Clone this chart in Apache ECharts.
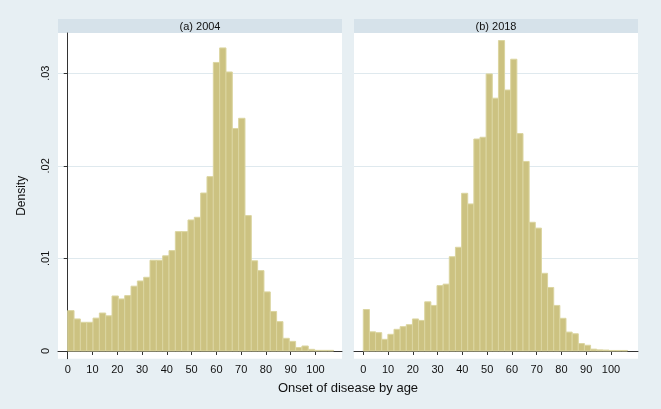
<!DOCTYPE html>
<html>
<head>
<meta charset="utf-8">
<script src="https://cdn.jsdelivr.net/npm/echarts@6/dist/echarts.min.js"></script>
<style>
html,body{margin:0;padding:0;background:#e7eff3;}
#chart{width:661px;height:409px;}
</style>
</head>
<body>
<div id="chart"></div>
<script>
// ---- data ----
const panelTitles = ['(a) 2004', '(b) 2018'];
const binWidth2004 = 2.555;
const binWidth2018 = 2.48;
const density2004 = [
  0.00436, 0.00346, 0.0031, 0.0031, 0.00355, 0.0041, 0.0038, 0.00594, 0.00562, 0.00598,
  0.007, 0.00756, 0.00796, 0.0098, 0.0098, 0.01028, 0.01084, 0.01289, 0.01289, 0.01415,
  0.01444, 0.01706, 0.01883, 0.03116, 0.03273, 0.03013, 0.02403, 0.02513, 0.01462, 0.00974,
  0.00868, 0.00638, 0.00427, 0.00317, 0.00137, 0.00104, 0.00038, 0.00054, 0.00018, 0.00007,
  0.00007, 0.00007
];
const density2018 = [
  0.00448, 0.00207, 0.00198, 0.00126, 0.0018, 0.00234, 0.00263, 0.00284, 0.00346, 0.0033,
  0.00531, 0.00492, 0.00706, 0.00722, 0.01018, 0.0112, 0.01703, 0.01588, 0.02289, 0.02308,
  0.02992, 0.0273, 0.03352, 0.02818, 0.03151, 0.02348, 0.02047, 0.0139, 0.01327, 0.00839,
  0.00686, 0.00492, 0.00353, 0.00204, 0.00186, 0.0008, 0.00062, 0.0002, 0.00012, 0.0001,
  0.00006, 0.00006, 0.00006
];
const xTickValues = [0, 10, 20, 30, 40, 50, 60, 70, 80, 90, 100];
const yTickValues = [0, 0.01, 0.02, 0.03];
const xTitle = 'Onset of disease by age';
const yTitle = 'Density';

function toBins(dens, w) {
  return dens.map((d, i) => [i * w, (i + 1) * w, d]);
}

const FONT = 'Liberation Sans, Arial, sans-serif';
const chart = echarts.init(document.getElementById('chart'));

function renderBar(params, api) {
  const p0 = api.coord([api.value(0), api.value(2)]);
  const p1 = api.coord([api.value(1), 0]);
  return {
    type: 'rect',
    shape: { x: p0[0], y: p0[1], width: p1[0] - p0[0], height: p1[1] - p0[1] },
    style: { fill: '#ccc281', stroke: '#dbd5a0', lineWidth: 1 }
  };
}

const yFmt = v => v === 0 ? '0' : v.toFixed(2).replace(/^0/, '');

const option = {
  backgroundColor: '#e7eff3',
  animation: false,
  textStyle: { fontFamily: FONT },
  grid: [
    { left: 58, top: 33, width: 284, height: 325.7, show: true, backgroundColor: '#ffffff', borderWidth: 0 },
    { left: 354, top: 33, width: 284, height: 325.7, show: true, backgroundColor: '#ffffff', borderWidth: 0 }
  ],
  xAxis: [0, 1].map(i => ({
    type: 'value',
    gridIndex: i,
    min: i === 0 ? -3.92 : -3.75,
    max: i === 0 ? 110.7 : 110.9,
    axisLine: { show: true, lineStyle: { color: '#333', width: 1 } },
    axisTick: { show: true, customValues: xTickValues, length: 4, lineStyle: { color: '#333' } },
    axisLabel: { show: true, customValues: xTickValues, color: '#111', fontSize: 11, margin: 6, fontFamily: FONT },
    splitLine: { show: false }
  })),
  yAxis: [0, 1].map(i => ({
    type: 'value',
    gridIndex: i,
    min: -0.000832,
    max: 0.03434,
    name: i === 0 ? yTitle : '',
    nameLocation: 'middle',
    nameGap: 30,
    nameRotate: 90,
    nameTextStyle: { color: '#111', fontSize: 12, fontFamily: FONT },
    axisLine: { show: i === 0, lineStyle: { color: '#333', width: 1 } },
    axisTick: { show: i === 0, customValues: yTickValues, length: 4, lineStyle: { color: '#333' } },
    axisLabel: { show: i === 0, customValues: yTickValues, rotate: 90, formatter: yFmt, color: '#111', fontSize: 11, margin: 7, fontFamily: FONT },
    splitLine: { show: true, lineStyle: { color: '#dfe9ee', width: 1 } }
  })),
  series: [
    { type: 'custom', xAxisIndex: 0, yAxisIndex: 0, renderItem: renderBar,
      encode: { x: [0, 1], y: 2 }, data: toBins(density2004, binWidth2004) },
    { type: 'custom', xAxisIndex: 1, yAxisIndex: 1, renderItem: renderBar,
      encode: { x: [0, 1], y: 2 }, data: toBins(density2018, binWidth2018) }
  ],
  graphic: [
    { type: 'rect', shape: { x: 58, y: 19, width: 284, height: 14 }, style: { fill: '#d6e2ea' } },
    { type: 'rect', shape: { x: 354, y: 19, width: 284, height: 14 }, style: { fill: '#d6e2ea' } },
    { type: 'text', x: 200, y: 26.5, style: { text: panelTitles[0], fill: '#111', font: '11px ' + FONT, textAlign: 'center', textVerticalAlign: 'middle' } },
    { type: 'text', x: 496, y: 26.5, style: { text: panelTitles[1], fill: '#111', font: '11px ' + FONT, textAlign: 'center', textVerticalAlign: 'middle' } },
    { type: 'text', x: 348, y: 388, style: { text: xTitle, fill: '#111', font: '13px ' + FONT, textAlign: 'center', textVerticalAlign: 'middle' } }
  ]
};
chart.setOption(option);
</script>
</body>
</html>
